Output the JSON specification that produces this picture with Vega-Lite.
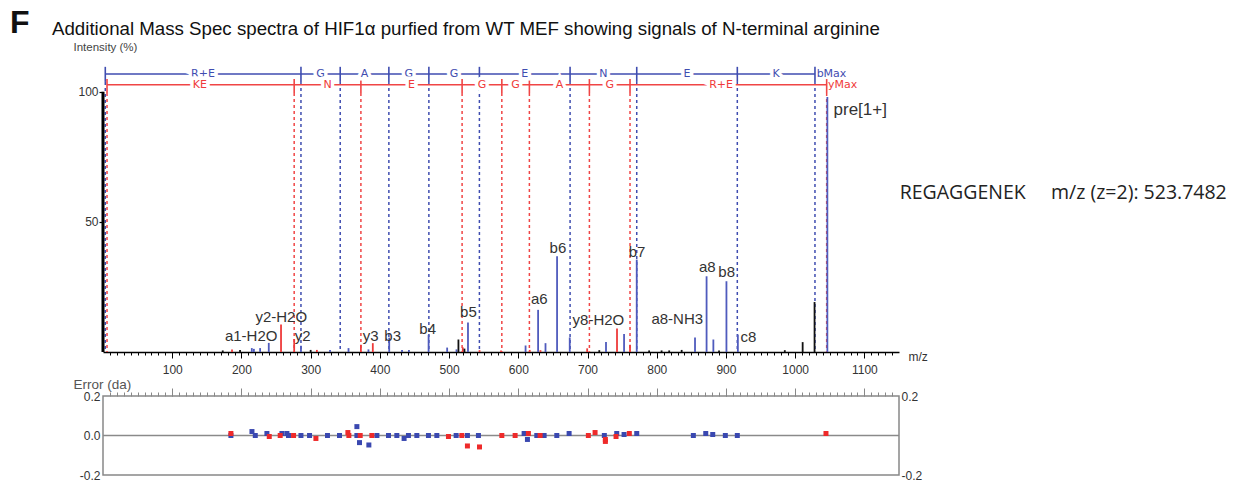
{
  "$schema": "https://vega.github.io/schema/vega-lite/v6.json",
  "background": "white",
  "padding": {"left": 10, "top": 7, "right": 5, "bottom": 5},
  "config": {
    "view": {"stroke": null},
    "font": "Liberation Sans",
    "axis": {"grid": false, "labelFont": "Liberation Sans", "titleFont": "Liberation Sans"}
  },
  "title": {"text": "F", "anchor": "start", "frame": "group", "fontSize": 32, "fontWeight": "bold", "font": "Liberation Sans", "color": "#111", "dx": -93, "dy": 20, "offset": 0},
  "spacing": 1,
  "datasets": {
    "peaks": [
      {"mz":173,"int":0.6,"ion":"n"},{"mz":186.4,"int":1.0,"ion":"y"},{"mz":198,"int":0.8,"ion":"n"},
      {"mz":215,"int":1.5,"ion":"b"},{"mz":218,"int":1.2,"ion":"b"},{"mz":227,"int":1.5,"ion":"b"},
      {"mz":239.5,"int":3.5,"ion":"b"},{"mz":257.2,"int":10.6,"ion":"y"},{"mz":276.2,"int":5.0,"ion":"y"},
      {"mz":286,"int":2.4,"ion":"b"},{"mz":300,"int":0.8,"ion":"n"},{"mz":309,"int":0.8,"ion":"y"},
      {"mz":328,"int":0.8,"ion":"b"},{"mz":354.7,"int":1.5,"ion":"b"},{"mz":372.6,"int":2.8,"ion":"y"},
      {"mz":383.5,"int":1.0,"ion":"b"},{"mz":389.8,"int":3.4,"ion":"y"},{"mz":413.5,"int":5.5,"ion":"b"},
      {"mz":432,"int":0.8,"ion":"b"},{"mz":442,"int":0.8,"ion":"b"},{"mz":470.4,"int":6.6,"ion":"b"},
      {"mz":497.2,"int":1.7,"ion":"b"},{"mz":510.7,"int":1.0,"ion":"b"},{"mz":513.5,"int":4.8,"ion":"n"},
      {"mz":519.8,"int":1.8,"ion":"y"},{"mz":522.2,"int":1.3,"ion":"n"},{"mz":527.3,"int":11.3,"ion":"b"},
      {"mz":544,"int":0.7,"ion":"y"},{"mz":575,"int":0.6,"ion":"y"},{"mz":610.5,"int":2.5,"ion":"b"},
      {"mz":616.5,"int":0.8,"ion":"y"},{"mz":628.6,"int":16.2,"ion":"b"},{"mz":632,"int":0.7,"ion":"y"},
      {"mz":639.3,"int":3.4,"ion":"b"},{"mz":656,"int":36.8,"ion":"b"},{"mz":674.3,"int":5.6,"ion":"b"},
      {"mz":699.5,"int":1.4,"ion":"y"},{"mz":717,"int":0.7,"ion":"n"},{"mz":726.7,"int":3.8,"ion":"b"},
      {"mz":742.6,"int":9.0,"ion":"y"},{"mz":752.8,"int":6.9,"ion":"b"},{"mz":761.4,"int":2.8,"ion":"y"},
      {"mz":771.1,"int":35.5,"ion":"b"},{"mz":789,"int":0.6,"ion":"n"},{"mz":807,"int":0.6,"ion":"n"},
      {"mz":818,"int":0.6,"ion":"n"},{"mz":836,"int":0.8,"ion":"n"},{"mz":855.3,"int":5.6,"ion":"b"},
      {"mz":872,"int":29.1,"ion":"b"},{"mz":881.8,"int":4.8,"ion":"b"},{"mz":890,"int":0.6,"ion":"n"},
      {"mz":900.7,"int":27.2,"ion":"b"},{"mz":917.2,"int":6.7,"ion":"b"},{"mz":985,"int":0.7,"ion":"n"},
      {"mz":1010.8,"int":3.8,"ion":"n"},{"mz":1028,"int":19.2,"ion":"n"},{"mz":1046.5,"int":98,"ion":"b"}
    ],
    "ladder": [
      {"mz":3.3,"ion":"b"},{"mz":286,"ion":"b"},{"mz":342.7,"ion":"b"},{"mz":413,"ion":"b"},{"mz":470.8,"ion":"b"},
      {"mz":543.8,"ion":"b"},{"mz":674.8,"ion":"b"},{"mz":771.1,"ion":"b"},{"mz":916.4,"ion":"b"},{"mz":1028.6,"ion":"b"},
      {"mz":5.8,"ion":"y"},{"mz":276.2,"ion":"y"},{"mz":372.6,"ion":"y"},{"mz":518.8,"ion":"y"},{"mz":576.2,"ion":"y"},
      {"mz":616,"ion":"y"},{"mz":702.7,"ion":"y"},{"mz":761.4,"ion":"y"},{"mz":1045.5,"ion":"y"}
    ],
    "spans": [{"start":3.3,"end":1028.6,"ion":"b"},{"start":5.8,"end":1045.5,"ion":"y"}],
    "letters": [
      {"mz":144.5,"res":"R+E","ion":"b"},{"mz":314.4,"res":"G","ion":"b"},{"mz":377.9,"res":"A","ion":"b"},
      {"mz":441.9,"res":"G","ion":"b"},{"mz":507.3,"res":"G","ion":"b"},{"mz":609.3,"res":"E","ion":"b"},
      {"mz":723,"res":"N","ion":"b"},{"mz":843.8,"res":"E","ion":"b"},{"mz":972.5,"res":"K","ion":"b"},
      {"mz":140,"res":"KE","ion":"y"},{"mz":324.4,"res":"N","ion":"y"},{"mz":445.7,"res":"E","ion":"y"},
      {"mz":547.5,"res":"G","ion":"y"},{"mz":596,"res":"G","ion":"y"},{"mz":659.4,"res":"A","ion":"y"},
      {"mz":732,"res":"G","ion":"y"},{"mz":893,"res":"R+E","ion":"y"}
    ],
    "ends": [{"mz":1031,"t":"bMax","ion":"b"},{"mz":1047.5,"t":"yMax","ion":"y"}],
    "labels": [
      {"label":"a1-H2O","mz":214.1,"int":6.3},{"label":"y2-H2O","mz":257.5,"int":13.5},
      {"label":"y2","mz":288.4,"int":6.2},{"label":"y3","mz":386.7,"int":6.2},
      {"label":"b3","mz":418.5,"int":6.3},{"label":"b4","mz":469,"int":8.8},
      {"label":"b5","mz":528,"int":15.3},{"label":"a6","mz":630.3,"int":20.3},
      {"label":"b6","mz":657.2,"int":39.9},{"label":"y8-H2O","mz":715.7,"int":12.4},
      {"label":"b7","mz":771.6,"int":38.6},{"label":"a8-NH3","mz":829.6,"int":12.5},
      {"label":"a8","mz":873,"int":32.6},{"label":"b8","mz":901,"int":30.8},
      {"label":"c8","mz":932.3,"int":5.9},{"label":"pre[1+]","mz":1094,"int":93}
    ],
    "errs": [
      {"mz":184.8,"err":0.0,"ion":"b"},{"mz":215.2,"err":0.02,"ion":"b"},{"mz":220,"err":0.0,"ion":"b"},
      {"mz":236.8,"err":0.01,"ion":"b"},{"mz":258.5,"err":0.01,"ion":"b"},{"mz":265.7,"err":0.01,"ion":"b"},
      {"mz":268,"err":0.0,"ion":"b"},{"mz":286,"err":0.0,"ion":"b"},{"mz":298.4,"err":0.0,"ion":"b"},
      {"mz":324.3,"err":0.0,"ion":"b"},{"mz":341.7,"err":0.0,"ion":"b"},{"mz":366.8,"err":0.045,"ion":"b"},
      {"mz":366.8,"err":0.0,"ion":"b"},{"mz":370.6,"err":-0.036,"ion":"b"},{"mz":384.1,"err":-0.048,"ion":"b"},
      {"mz":395.7,"err":0.0,"ion":"b"},{"mz":412.5,"err":0.0,"ion":"b"},{"mz":424.5,"err":0.0,"ion":"b"},
      {"mz":435,"err":-0.015,"ion":"b"},{"mz":441.3,"err":0.0,"ion":"b"},{"mz":453.4,"err":0.0,"ion":"b"},
      {"mz":470.2,"err":0.0,"ion":"b"},{"mz":482.3,"err":0.0,"ion":"b"},{"mz":510.2,"err":0.0,"ion":"b"},
      {"mz":526.5,"err":0.0,"ion":"b"},{"mz":542.4,"err":0.0,"ion":"b"},{"mz":608.4,"err":0.01,"ion":"b"},
      {"mz":613.2,"err":-0.02,"ion":"b"},{"mz":626.7,"err":0.0,"ion":"b"},{"mz":637.3,"err":0.0,"ion":"b"},
      {"mz":655.6,"err":0.0,"ion":"b"},{"mz":673.4,"err":0.01,"ion":"b"},{"mz":724.3,"err":0.0,"ion":"b"},
      {"mz":742.2,"err":0.01,"ion":"b"},{"mz":752.8,"err":0.005,"ion":"b"},{"mz":771.1,"err":0.01,"ion":"b"},
      {"mz":852.9,"err":0.0,"ion":"b"},{"mz":870.8,"err":0.01,"ion":"b"},{"mz":880.9,"err":0.005,"ion":"b"},
      {"mz":899.1,"err":0.0,"ion":"b"},{"mz":916.4,"err":0.0,"ion":"b"},
      {"mz":184.8,"err":0.01,"ion":"y"},{"mz":240.2,"err":-0.005,"ion":"y"},{"mz":256,"err":0.0,"ion":"y"},
      {"mz":275.3,"err":0.0,"ion":"y"},{"mz":307.6,"err":-0.015,"ion":"y"},{"mz":353.8,"err":0.015,"ion":"y"},
      {"mz":355.2,"err":0.0,"ion":"y"},{"mz":371.6,"err":0.0,"ion":"y"},{"mz":388.4,"err":0.0,"ion":"y"},
      {"mz":499.1,"err":-0.005,"ion":"y"},{"mz":518.4,"err":0.0,"ion":"y"},{"mz":526.5,"err":-0.053,"ion":"y"},
      {"mz":543.9,"err":-0.058,"ion":"y"},{"mz":576.2,"err":0.0,"ion":"y"},{"mz":595.4,"err":0.0,"ion":"y"},
      {"mz":614.6,"err":0.01,"ion":"y"},{"mz":631.5,"err":0.0,"ion":"y"},{"mz":701.2,"err":0.0,"ion":"y"},
      {"mz":710.9,"err":0.015,"ion":"y"},{"mz":725.8,"err":-0.02,"ion":"y"},{"mz":725.8,"err":-0.03,"ion":"y"},
      {"mz":741.2,"err":-0.005,"ion":"y"},{"mz":760.4,"err":0.01,"ion":"y"},{"mz":1044.5,"err":0.01,"ion":"y"}
    ]
  },
  "vconcat": [
    {
      "width": 796,
      "height": 281,
      "title": {"text": "Additional Mass Spec spectra of HIF1α purfied from WT MEF showing signals of N-terminal arginine", "anchor": "start", "frame": "group", "dx": -51, "fontSize": 18.7, "fontWeight": "normal", "font": "Liberation Sans", "color": "#111", "offset": 2},
      "resolve": {"axis": {"x": "independent", "y": "independent"}},
      "layer": [
        {
          "data": {"name": "ladder"},
          "transform": [{"filter": "datum.ion == 'b'"}],
          "mark": {"type": "rule", "color": "#3f4db0", "strokeWidth": 1.5, "strokeDash": [3, 3]},
          "encoding": {
            "x": {"field": "mz", "type": "quantitative", "scale": {"domain": [0, 1150], "nice": false, "zero": false}, "axis": null},
            "y": {"datum": 103.8, "type": "quantitative", "scale": {"domain": [0, 108], "nice": false, "zero": false}, "axis": null},
            "y2": {"datum": 0}
          }
        },
        {
          "data": {"name": "ladder"},
          "transform": [{"filter": "datum.ion == 'y'"}],
          "mark": {"type": "rule", "color": "#f04545", "strokeWidth": 1.5, "strokeDash": [3, 3]},
          "encoding": {
            "x": {"field": "mz", "type": "quantitative", "scale": {"domain": [0, 1150], "nice": false, "zero": false}, "axis": null},
            "y": {"datum": 99.5, "type": "quantitative", "scale": {"domain": [0, 108], "nice": false, "zero": false}, "axis": null},
            "y2": {"datum": 0}
          }
        },
        {
          "data": {"name": "peaks"},
          "mark": {"type": "rule", "strokeWidth": 1.8},
          "encoding": {
            "x": {"field": "mz", "type": "quantitative", "scale": {"domain": [0, 1150], "nice": false, "zero": false},
              "axis": {"orient": "bottom", "values": [100,200,300,400,500,600,700,800,900,1000,1100], "format": "d", "tickSize": 6, "tickColor": "#000", "tickWidth": 1, "domain": false, "labelFontSize": 12, "labelColor": "#333", "labelPadding": 6, "title": "m/z", "titleAngle": 0, "titleAlign": "left", "titleBaseline": "middle", "titleX": 805, "titleY": 4, "titleFontSize": 12, "titleFontWeight": "normal", "titleColor": "#333"}},
            "y": {"field": "int", "type": "quantitative", "scale": {"domain": [0, 108], "nice": false, "zero": false},
              "axis": {"orient": "left", "values": [50, 100], "format": "d", "ticks": true, "tickSize": 4, "tickColor": "#000", "tickWidth": 1.2, "domain": false, "labels": true, "labelFontSize": 12, "labelColor": "#333", "labelPadding": 1, "title": "Intensity (%)", "titleAngle": 0, "titleAlign": "left", "titleBaseline": "middle", "titleX": -30, "titleY": -24, "titleFontSize": 11.5, "titleFontWeight": "normal", "titleColor": "#444"}},
            "y2": {"datum": 0},
            "color": {"field": "ion", "type": "nominal", "scale": {"domain": ["b", "y", "n"], "range": ["#4f5bbd", "#ee3b3b", "#111111"]}, "legend": null}
          }
        },
        {
          "data": {"name": "spans"},
          "transform": [{"filter": "datum.ion == 'b'"}],
          "mark": {"type": "rule", "color": "#3f4db0", "strokeWidth": 1.5},
          "encoding": {
            "x": {"field": "start", "type": "quantitative", "scale": {"domain": [0, 1150], "nice": false, "zero": false}, "axis": null},
            "x2": {"field": "end"},
            "y": {"datum": 106.8, "type": "quantitative", "scale": {"domain": [0, 108], "nice": false, "zero": false}, "axis": null}
          }
        },
        {
          "data": {"name": "spans"},
          "transform": [{"filter": "datum.ion == 'y'"}],
          "mark": {"type": "rule", "color": "#f04545", "strokeWidth": 1.5},
          "encoding": {
            "x": {"field": "start", "type": "quantitative", "scale": {"domain": [0, 1150], "nice": false, "zero": false}, "axis": null},
            "x2": {"field": "end"},
            "y": {"datum": 102.7, "type": "quantitative", "scale": {"domain": [0, 108], "nice": false, "zero": false}, "axis": null}
          }
        },
        {
          "data": {"name": "ladder"},
          "transform": [{"filter": "datum.ion == 'b'"}],
          "mark": {"type": "rule", "color": "#3f4db0", "strokeWidth": 1.6},
          "encoding": {
            "x": {"field": "mz", "type": "quantitative", "scale": {"domain": [0, 1150], "nice": false, "zero": false}, "axis": null},
            "y": {"datum": 109.6, "type": "quantitative", "scale": {"domain": [0, 108], "nice": false, "zero": false}, "axis": null},
            "y2": {"datum": 103.8}
          }
        },
        {
          "data": {"name": "ladder"},
          "transform": [{"filter": "datum.ion == 'y'"}],
          "mark": {"type": "rule", "color": "#f04545", "strokeWidth": 1.6},
          "encoding": {
            "x": {"field": "mz", "type": "quantitative", "scale": {"domain": [0, 1150], "nice": false, "zero": false}, "axis": null},
            "y": {"datum": 104.9, "type": "quantitative", "scale": {"domain": [0, 108], "nice": false, "zero": false}, "axis": null},
            "y2": {"datum": 99.5}
          }
        },
        {
          "data": {"name": "letters"},
          "transform": [{"filter": "datum.ion == 'b'"}],
          "mark": {"type": "text", "font": "DejaVu Sans", "fontSize": 11, "fill": "white", "stroke": "white", "strokeWidth": 7, "baseline": "middle", "align": "center"},
          "encoding": {
            "x": {"field": "mz", "type": "quantitative", "scale": {"domain": [0, 1150], "nice": false, "zero": false}, "axis": null},
            "y": {"datum": 106.8, "type": "quantitative", "scale": {"domain": [0, 108], "nice": false, "zero": false}, "axis": null},
            "text": {"field": "res"}
          }
        },
        {
          "data": {"name": "letters"},
          "transform": [{"filter": "datum.ion == 'b'"}],
          "mark": {"type": "text", "font": "DejaVu Sans", "fontSize": 11, "color": "#3f4db0", "baseline": "middle", "align": "center"},
          "encoding": {
            "x": {"field": "mz", "type": "quantitative", "scale": {"domain": [0, 1150], "nice": false, "zero": false}, "axis": null},
            "y": {"datum": 106.8, "type": "quantitative", "scale": {"domain": [0, 108], "nice": false, "zero": false}, "axis": null},
            "text": {"field": "res"}
          }
        },
        {
          "data": {"name": "letters"},
          "transform": [{"filter": "datum.ion == 'y'"}],
          "mark": {"type": "text", "font": "DejaVu Sans", "fontSize": 11, "fill": "white", "stroke": "white", "strokeWidth": 7, "baseline": "middle", "align": "center"},
          "encoding": {
            "x": {"field": "mz", "type": "quantitative", "scale": {"domain": [0, 1150], "nice": false, "zero": false}, "axis": null},
            "y": {"datum": 102.7, "type": "quantitative", "scale": {"domain": [0, 108], "nice": false, "zero": false}, "axis": null},
            "text": {"field": "res"}
          }
        },
        {
          "data": {"name": "letters"},
          "transform": [{"filter": "datum.ion == 'y'"}],
          "mark": {"type": "text", "font": "DejaVu Sans", "fontSize": 11, "color": "#f03a3a", "baseline": "middle", "align": "center"},
          "encoding": {
            "x": {"field": "mz", "type": "quantitative", "scale": {"domain": [0, 1150], "nice": false, "zero": false}, "axis": null},
            "y": {"datum": 102.7, "type": "quantitative", "scale": {"domain": [0, 108], "nice": false, "zero": false}, "axis": null},
            "text": {"field": "res"}
          }
        },
        {
          "data": {"name": "ends"},
          "transform": [{"filter": "datum.ion == 'b'"}],
          "mark": {"type": "text", "font": "DejaVu Sans", "fontSize": 11, "color": "#3f4db0", "baseline": "middle", "align": "left"},
          "encoding": {
            "x": {"field": "mz", "type": "quantitative", "scale": {"domain": [0, 1150], "nice": false, "zero": false}, "axis": null},
            "y": {"datum": 106.8, "type": "quantitative", "scale": {"domain": [0, 108], "nice": false, "zero": false}, "axis": null},
            "text": {"field": "t"}
          }
        },
        {
          "data": {"name": "ends"},
          "transform": [{"filter": "datum.ion == 'y'"}],
          "mark": {"type": "text", "font": "DejaVu Sans", "fontSize": 11, "color": "#f03a3a", "baseline": "middle", "align": "left"},
          "encoding": {
            "x": {"field": "mz", "type": "quantitative", "scale": {"domain": [0, 1150], "nice": false, "zero": false}, "axis": null},
            "y": {"datum": 102.7, "type": "quantitative", "scale": {"domain": [0, 108], "nice": false, "zero": false}, "axis": null},
            "text": {"field": "t"}
          }
        },
        {
          "data": {"name": "labels"},
          "mark": {"type": "text", "font": "Liberation Sans", "color": "#333", "baseline": "middle", "align": "center"},
          "encoding": {
            "x": {"field": "mz", "type": "quantitative", "scale": {"domain": [0, 1150], "nice": false, "zero": false}, "axis": null},
            "y": {"field": "int", "type": "quantitative", "scale": {"domain": [0, 108], "nice": false, "zero": false}, "axis": null},
            "text": {"field": "label"},
            "size": {"condition": {"test": "datum.label == 'pre[1+]'", "value": 17}, "value": 15}
          }
        },
        {
          "data": {"values": [{"t": "REGAGGENEK\u00a0\u00a0\u00a0\u00a0 m/z (z=2): 523.7482"}]},
          "mark": {"type": "text", "font": "Open Sans", "fontSize": 19.5, "color": "#222", "baseline": "middle", "align": "left"},
          "encoding": {
            "x": {"datum": 1151, "type": "quantitative", "scale": {"domain": [0, 1150], "nice": false, "zero": false}, "axis": null},
            "y": {"datum": 61.2, "type": "quantitative", "scale": {"domain": [0, 108], "nice": false, "zero": false}, "axis": null},
            "text": {"field": "t"}
          }
        },
        {
          "data": {"values": [{"mz": 0, "lo": 0, "hi": 100}]},
          "mark": {"type": "rule", "color": "#000", "strokeWidth": 3},
          "encoding": {
            "x": {"field": "mz", "type": "quantitative", "scale": {"domain": [0, 1150], "nice": false, "zero": false},
              "axis": {"orient": "bottom", "values": [10,20,30,40,50,60,70,80,90,100,110,120,130,140,150,160,170,180,190,200,210,220,230,240,250,260,270,280,290,300,310,320,330,340,350,360,370,380,390,400,410,420,430,440,450,460,470,480,490,500,510,520,530,540,550,560,570,580,590,600,610,620,630,640,650,660,670,680,690,700,710,720,730,740,750,760,770,780,790,800,810,820,830,840,850,860,870,880,890,900,910,920,930,940,950,960,970,980,990,1000,1010,1020,1030,1040,1050,1060,1070,1080,1090,1100,1110,1120,1130,1140], "labels": false, "tickSize": 3, "tickColor": "#000", "tickWidth": 1, "domain": true, "domainColor": "#000", "domainWidth": 1.5, "title": null}},
            "y": {"field": "lo", "type": "quantitative", "scale": {"domain": [0, 108], "nice": false, "zero": false}, "axis": null},
            "y2": {"field": "hi"}
          }
        }
      ]
    },
    {
      "width": 796,
      "height": 79,
      "view": {"stroke": "#888", "strokeWidth": 1.5},
      "resolve": {"axis": {"x": "independent", "y": "independent"}},
      "layer": [
        {
          "data": {"values": [{"err": 0}]},
          "mark": {"type": "rule", "color": "#8a8a8a", "strokeWidth": 1.5},
          "encoding": {
            "y": {"field": "err", "type": "quantitative", "scale": {"domain": [-0.2, 0.2], "nice": false, "zero": false},
              "axis": {"orient": "left", "values": [-0.2, 0, 0.2], "format": ".1f", "labelExpr": "replace(datum.label, '\u2212', '-')", "ticks": false, "domain": false, "labelPadding": 3, "labelFontSize": 12, "labelColor": "#333", "title": "Error (da)", "titleAngle": 0, "titleAlign": "left", "titleBaseline": "middle", "titleX": -30, "titleY": -12, "titleFontSize": 13.5, "titleFontWeight": "normal", "titleColor": "#555"}}
          }
        },
        {
          "data": {"name": "errs"},
          "transform": [{"filter": "datum.ion == 'b'"}],
          "mark": {"type": "point", "shape": "square", "filled": true, "size": 25, "color": "#3a48b0", "opacity": 1},
          "encoding": {
            "x": {"field": "mz", "type": "quantitative", "scale": {"domain": [0, 1150], "nice": false, "zero": false},
              "axis": {"orient": "top", "values": [10,20,30,40,50,60,70,80,90,100,110,120,130,140,150,160,170,180,190,200,210,220,230,240,250,260,270,280,290,300,310,320,330,340,350,360,370,380,390,400,410,420,430,440,450,460,470,480,490,500,510,520,530,540,550,560,570,580,590,600,610,620,630,640,650,660,670,680,690,700,710,720,730,740,750,760,770,780,790,800,810,820,830,840,850,860,870,880,890,900,910,920,930,940,950,960,970,980,990,1000,1010,1020,1030,1040,1050,1060,1070,1080,1090,1100,1110,1120,1130,1140], "labels": false, "tickSize": 4, "tickColor": "#888", "tickWidth": 1, "domain": false, "title": null}},
            "y": {"field": "err", "type": "quantitative", "scale": {"domain": [-0.2, 0.2], "nice": false, "zero": false},
              "axis": {"orient": "right", "values": [-0.2, 0.2], "format": ".1f", "labelExpr": "replace(datum.label, '\u2212', '-')", "ticks": false, "domain": false, "labelPadding": 2, "labelFontSize": 12, "labelColor": "#333", "title": null}}
          }
        },
        {
          "data": {"name": "errs"},
          "transform": [{"filter": "datum.ion == 'y'"}],
          "mark": {"type": "point", "shape": "square", "filled": true, "size": 25, "color": "#ee2a2a", "opacity": 1},
          "encoding": {
            "x": {"field": "mz", "type": "quantitative", "scale": {"domain": [0, 1150], "nice": false, "zero": false},
              "axis": {"orient": "top", "values": [100,200,300,400,500,600,700,800,900,1000,1100], "labels": false, "tickSize": 8, "tickColor": "#888", "tickWidth": 1, "domain": false, "title": null}},
            "y": {"field": "err", "type": "quantitative", "scale": {"domain": [-0.2, 0.2], "nice": false, "zero": false}, "axis": null}
          }
        }
      ]
    }
  ]
}
